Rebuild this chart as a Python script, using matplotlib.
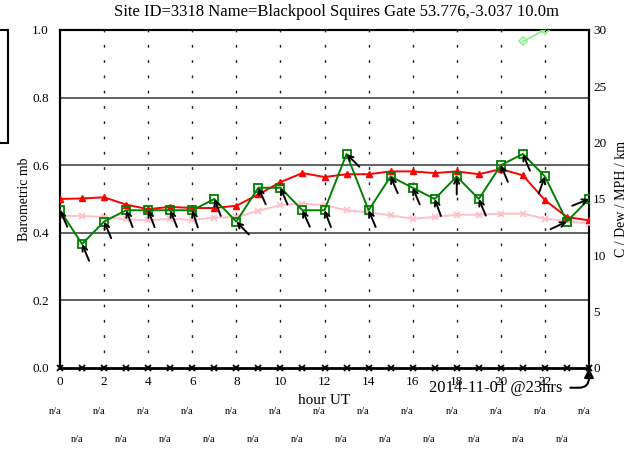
import numpy as np
import matplotlib
matplotlib.use('Agg')
import matplotlib.pyplot as plt
from matplotlib.patches import Rectangle
import matplotlib.transforms as mtransforms

plt.rcParams['font.family'] = ['Liberation Serif', 'DejaVu Serif']

## DADOS
horas = list(range(25))
temp = [15.0, 15.05, 15.15, 14.5, 14.1, 14.3, 14.2, 14.2, 14.4, 15.4, 16.5, 17.3, 16.95,
        17.2, 17.2, 17.45, 17.45, 17.3, 17.45, 17.2, 17.65, 17.1, 14.9, 13.4, 13.1]
dew = [13.5, 13.5, 13.4, 13.2, 13.1, 13.25, 13.15, 13.35, 13.4, 13.95, 14.45, 14.6, 14.45,
       14.0, 13.8, 13.55, 13.25, 13.4, 13.6, 13.6, 13.7, 13.7, 13.25, 13.05, 12.8]
vento_mph = [14, 11, 13, 14, 14, 14, 14, 15, 13, 16, 16, 14, 14,
             19, 14, 17, 16, 15, 17, 15, 18, 19, 17, 13, 15]
vento_dir = [156, 157, 157, 159, 159, 158, 162, 159, 136, 156, 157, 156, 159,
             135, 157, 157, 157, 160, 180, 157, 157, 157, 200, 245, 248]
chuva = [0] * 25
visib_horas = [21, 22]
visib_km = [29.0, 30.0]
na_labels = ['n/a'] * 25

titulo = 'Site ID=3318 Name=Blackpool Squires Gate 53.776,-3.037 10.0m'

W, H = 644, 454
fig = plt.figure(figsize=(W / 100, H / 100), dpi=100)
ax = fig.add_axes([60 / W, 1 - 368 / H, 529 / W, 338 / H])
ax2 = ax.twinx()

ax.set_xlim(0, 24)
ax.set_ylim(0, 1.0)
ax2.set_ylim(0, 30)

# grade
for y in [0.2, 0.4, 0.6, 0.8]:
    ax.axhline(y, color='#383838', lw=1.1, zorder=1)
for x in range(2, 24, 2):
    ax.axvline(x, color='#222222', lw=1.0, linestyle=(0, (2, 9)), zorder=1)

ax.set_xticks(range(0, 24, 2))
ax.set_yticks([0, 0.2, 0.4, 0.6, 0.8, 1.0])
ax.set_yticklabels(['0.0', '0.2', '0.4', '0.6', '0.8', '1.0'])
ax2.set_yticks(range(0, 31, 5))
ax.tick_params(axis='y', length=0, labelsize=9.5, pad=8)
ax.tick_params(axis='x', length=0, labelsize=9.5, pad=6)
ax2.tick_params(length=0, labelsize=9.5, pad=3)
ax.set_ylabel('Barometric mb', fontsize=10, labelpad=1)
ax2.set_ylabel('C / Dew / MPH / km', fontsize=10, labelpad=6)
ax.set_xlabel('hour UT', fontsize=11, labelpad=4)

for a in (ax, ax2):
    a.spines['bottom'].set_visible(False)
    for s in ('left', 'right', 'top'):
        a.spines[s].set_linewidth(1.5)
        a.spines[s].set_color('black')

ax2.plot(horas, dew, color='pink', lw=1.4, marker='x', ms=5, mew=1.3, zorder=3)
ax2.plot(horas, temp, color='red', lw=1.4, marker='^', ms=5, zorder=4)
ax2.plot(horas, vento_mph, color='green', lw=1.4, marker='s', ms=5.5, mfc='none', mew=1.3, zorder=5)
ax2.plot(visib_horas, visib_km, color='lightgreen', lw=1.3, marker='D', ms=4, mfc='none', mew=1.2, zorder=3)
ax2.plot(horas, chuva, color='black', lw=2, marker='x', ms=4.5, mew=1.3, zorder=6, clip_on=False)

# setas de direção do vento
L = 13
for h, v, d in zip(horas, vento_mph, vento_dir):
    t = np.deg2rad(d)
    ax2.annotate('', xy=(h, v), xytext=(L * np.sin(t), L * np.cos(t)), textcoords='offset points',
                 arrowprops=dict(arrowstyle='->', color='black', lw=1.4, mutation_scale=9,
                                 shrinkA=0, shrinkB=0), zorder=7, annotation_clip=False)

ax2.annotate('2014-11-01 @23hrs', xy=(24, 0), xytext=(19.75, -1.75), ha='center', va='center',
             fontsize=12, annotation_clip=False,
             arrowprops=dict(arrowstyle='-|>', connectionstyle='angle,angleA=0,angleB=90,rad=10',
                             color='black', lw=1.5, mutation_scale=14, shrinkA=4, shrinkB=0))

# linhas n/a
trans = mtransforms.blended_transform_factory(ax.transData, fig.transFigure)
for h, s in zip(horas, na_labels):
    yy = 1 - 411 / H if h % 2 == 0 else 1 - 439 / H
    ax.text(h - 0.23, yy, s, transform=trans, ha='center', va='center', fontsize=7.5, clip_on=False)

fig.text(337 / W, 1 - 12 / H, titulo, ha='center', va='center', fontsize=12)

# caixa da legenda (cortada)
fig.patches.append(Rectangle((-20 / W, 1 - 143 / H), 28 / W, 113 / H, transform=fig.transFigure,
                             fill=False, edgecolor='black', lw=1.5))

fig.savefig('out.png', dpi=100)
